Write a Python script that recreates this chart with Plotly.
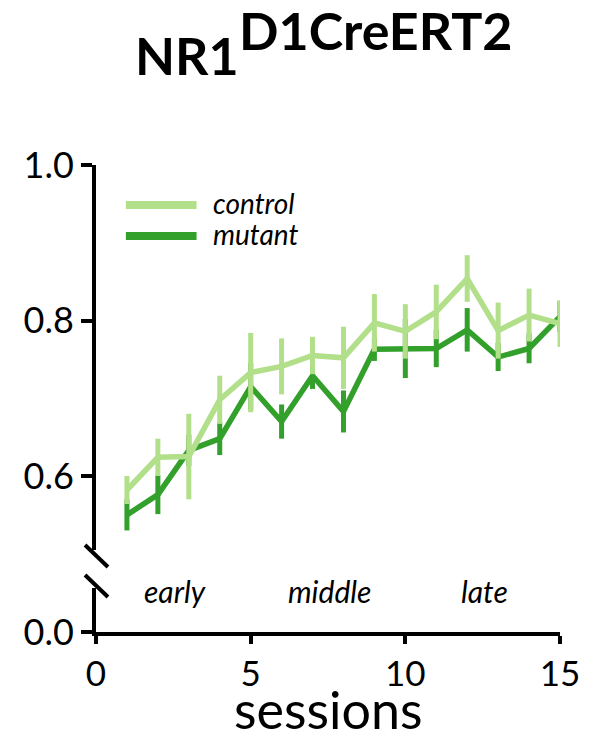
import plotly.graph_objects as go

sessions = list(range(1, 16))
control = [0.582, 0.624, 0.625, 0.698, 0.733, 0.741, 0.755, 0.752, 0.797, 0.786, 0.811, 0.854, 0.787, 0.807, 0.796]
control_err = [0.018, 0.024, 0.055, 0.031, 0.051, 0.036, 0.024, 0.040, 0.037, 0.035, 0.035, 0.030, 0.036, 0.034, 0.030]
mutant = [0.550, 0.576, 0.633, 0.648, 0.715, 0.670, 0.729, 0.683, 0.763, 0.764, 0.764, 0.788, 0.753, 0.764, 0.805]
mutant_err = [0.020, 0.025, 0.020, 0.021, 0.030, 0.022, 0.017, 0.027, 0.015, 0.038, 0.024, 0.028, 0.018, 0.019, 0.020]
phase_labels = ["early", "middle", "late"]
phase_centers = [2.55, 7.55, 12.55]
x_ticks = [0, 5, 10, 15]
y_ticks_upper = [0.6, 0.8, 1.0]
y_ticks_lower = [0.0]

C_CTRL = "#b2df8a"
C_MUT = "#33a02c"
FONT = "Lato"

# pixel geometry of plot area
L, R, T, B = 96, 562, 165, 632
W, H = R - L, B - T
def px(p):
    return (p - L) / W
def py(p):
    return (B - p) / H

fig = go.Figure()
# empty trace so the lower (0.0) y-axis subplot exists
fig.add_trace(go.Scatter(x=[None], y=[None], yaxis="y", mode="lines",
                         showlegend=False, hoverinfo="skip"))
fig.add_trace(go.Scatter(
    x=sessions, y=mutant, mode="lines", yaxis="y2", name="mutant",
    line=dict(color=C_MUT, width=5.5),
    error_y=dict(type="data", array=mutant_err, color=C_MUT, thickness=5, width=0),
    showlegend=False))
fig.add_trace(go.Scatter(
    x=sessions, y=control, mode="lines", yaxis="y2", name="control",
    line=dict(color=C_CTRL, width=5.5),
    error_y=dict(type="data", array=control_err, color=C_CTRL, thickness=5, width=0),
    showlegend=False))

axis_common = dict(showline=True, linecolor="black", linewidth=4, ticks="outside",
                   tickwidth=4, tickcolor="black", showgrid=False, zeroline=False)

upper_bottom = 550
upper_lo = 1.0 - (upper_bottom - T) / 777.5

fig.update_layout(
    width=592, height=739,
    margin=dict(l=L, r=592 - R, t=T, b=739 - B),
    paper_bgcolor="white", plot_bgcolor="white",
    xaxis=dict(range=[0, 15], tickvals=x_ticks, anchor="y", ticklen=8,
               tickfont=dict(family=FONT, size=35, color="black"), **axis_common),
    yaxis=dict(domain=[0, py(588)], range=[0, 0.1], tickvals=y_ticks_lower,
               ticktext=["0.0"], anchor="x", ticklen=11,
               tickfont=dict(family=FONT, size=36, color="black"), **axis_common),
    yaxis2=dict(domain=[py(upper_bottom), 1], range=[upper_lo, 1.0], tickvals=y_ticks_upper,
                ticktext=["0.6", "0.8", "1.0"], anchor="x", ticklen=11,
                tickfont=dict(family=FONT, size=36, color="black"), **axis_common),
)

# axis break marks
for y0, y1 in [(545, 567), (575, 597)]:
    fig.add_shape(type="line", xref="paper", yref="paper",
                  x0=px(85), y0=py(y0), x1=px(108), y1=py(y1),
                  line=dict(color="black", width=4))

# legend
for yy, col, lab in [(205, C_CTRL, "control"), (236, C_MUT, "mutant")]:
    fig.add_shape(type="line", xref="paper", yref="paper",
                  x0=px(126), x1=px(197), y0=py(yy), y1=py(yy),
                  line=dict(color=col, width=8))
    fig.add_annotation(xref="paper", yref="paper", x=px(211), y=py(yy - 2),
                       xanchor="left", yanchor="middle", showarrow=False, text="<i>%s</i>" % lab,
                       font=dict(family=FONT, size=28, color="black"))

# phase labels
for lab, cx in zip(phase_labels, phase_centers):
    fig.add_annotation(xref="x", yref="paper", x=cx, y=py(591), xanchor="center", yanchor="middle",
                       showarrow=False, text="<i>%s</i>" % lab,
                       font=dict(family=FONT, size=30, color="black"))

# x-axis title
fig.add_annotation(xref="paper", yref="paper", x=0.5, y=py(709), xanchor="center", yanchor="middle",
                   showarrow=False, text="sessions", font=dict(family=FONT, size=52, color="black"))

# title
fig.add_annotation(xref="paper", yref="paper", x=px(133), y=py(55), xanchor="left", yanchor="middle",
                   showarrow=False, text="<b>NR1</b>", font=dict(family=FONT, size=52, color="black"))
fig.add_annotation(xref="paper", yref="paper", x=px(238), y=py(30), xanchor="left", yanchor="middle",
                   showarrow=False, text="<b>D1CreERT2</b>", font=dict(family=FONT, size=52, color="black"))

fig.write_html("out.html")
